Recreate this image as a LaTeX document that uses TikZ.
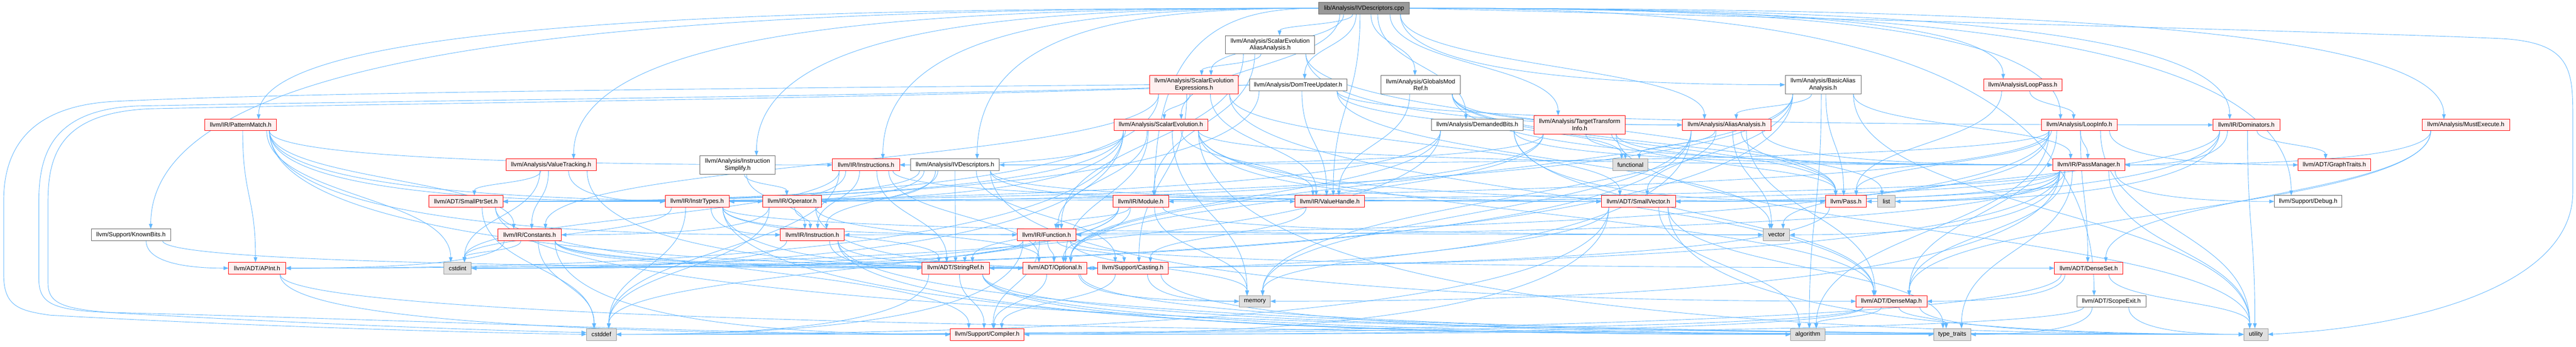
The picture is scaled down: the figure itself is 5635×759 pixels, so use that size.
\documentclass[tikz,border=0pt]{standalone}
\usepackage{fontspec}
\setmainfont{Liberation Sans}
\usetikzlibrary{arrows.meta}
\definecolor{edgec}{HTML}{63B8FF}
\definecolor{rdfill}{HTML}{FFF0F0}
\definecolor{sysfill}{HTML}{E0E0E0}
\definecolor{grA}{HTML}{666666}
\definecolor{grB}{HTML}{999999}
\pgfdeclarelayer{bg}
\pgfsetlayers{bg,main}
\makeatletter
\newcommand\NN[7]{%
  \expandafter\xdef\csname X@#1\endcsname{\fpeval{(#2+#4)/2}}%
  \expandafter\xdef\csname Y@#1\endcsname{\fpeval{(#3+#5)/2}}%
  \expandafter\xdef\csname W@#1\endcsname{\fpeval{(#4-#2)/2}}%
  \expandafter\xdef\csname H@#1\endcsname{\fpeval{(#5-#3)/2}}%
  \edef\NNw{\fpeval{#4-#2}pt}\edef\NNh{\fpeval{#5-#3}pt}%
  \edef\NNx{\csname X@#1\endcsname}\edef\NNy{\csname Y@#1\endcsname}%
  \node[#6, minimum width=\NNw, minimum height=\NNh] (#1) at (\NNx,\NNy) {#7};%
}
\def\cS{s}\def\cA{a}
\newcommand\Eg[3][aa]{\Eg@parse#1\@nil{#2}{#3}}
\def\Eg@parse#1#2\@nil#3#4{%
  \def\SMode{#1}\def\EMode{#2}%
  \edef\Xa{\csname X@#3\endcsname}\edef\Ya{\csname Y@#3\endcsname}%
  \edef\Wa{\csname W@#3\endcsname}\edef\Ha{\csname H@#3\endcsname}%
  \edef\Xb{\csname X@#4\endcsname}\edef\Yb{\csname Y@#4\endcsname}%
  \edef\Wb{\csname W@#4\endcsname}\edef\Hb{\csname H@#4\endcsname}%
  \edef\Dx{\fpeval{\Xb-(\Xa)}}%
  \edef\Sg{\fpeval{(\Dx<0) ? -1 : 1}}%
  \edef\Gap{\fpeval{(\Yb-\Hb)-(\Ya+\Ha)}}%
  \ifx\EMode\cA
    \ifnum\fpeval{(abs(\Dx) > 5*\Gap) ? 1 : 0}=1 \def\EMode{s}\else\def\EMode{t}\fi
  \fi
  \ifx\SMode\cA\def\SMode{b}\fi
  \ifx\SMode\cS
    \edef\Px{\fpeval{\Xa+\Sg*\Wa}}\edef\Py{\Ya}%
    \ifnum\Sg>0 \def\Pspec{(#3.east)}\else\def\Pspec{(#3.west)}\fi
  \else
    \edef\Ox{\fpeval{round(max(-0.8*\Wa, min(0.8*\Wa, 0.12*\Dx)),2)}}%
    \edef\Px{\fpeval{\Xa+\Ox}}\edef\Py{\fpeval{\Ya+\Ha}}%
    \edef\Pspec{([xshift=\Ox pt]#3.south)}%
  \fi
  \ifx\EMode\cS
    \edef\Qx{\fpeval{\Xb-\Sg*\Wb}}\edef\Qy{\Yb}%
    \ifnum\Sg>0 \def\Qspec{(#4.west)}\else\def\Qspec{(#4.east)}\fi
  \else
    \edef\Ex{\fpeval{round(max(-0.5*\Wb, min(0.5*\Wb, -0.1*\Dx)),2)}}%
    \edef\Qx{\fpeval{\Xb+\Ex}}\edef\Qy{\fpeval{\Yb-\Hb}}%
    \edef\Qspec{([xshift=\Ex pt]#4.north)}%
  \fi
  \edef\DX{\fpeval{abs(\Qx-\Px)}}\edef\DY{\fpeval{\Qy-\Py}}%
  \ifx\SMode\cS
    \edef\Ca{+(\fpeval{round(\Sg*0.5*\DX,2)},0)}%
  \else
    \ifx\EMode\cS \edef\Ca{+(0,\fpeval{round(0.8*\DY,2)})}%
    \else \edef\Ca{+(0,\fpeval{round(0.5*\DY,2)})}\fi
  \fi
  \ifx\EMode\cS
    \edef\Cb{+(\fpeval{round(-\Sg*0.5*\DX,2)},0)}%
  \else
    \ifx\SMode\cS \edef\Cb{+(0,\fpeval{round(-0.9*\DY,2)})}%
    \else \edef\Cb{+(0,\fpeval{round(-0.5*\DY,2)})}\fi
  \fi
  \edef\doit{\noexpand\draw[conn] \Pspec\space .. controls \Ca\space and \Cb\space .. \Qspec;}%
  \doit
}
\newcommand\Es[2]{\foreach \tg in {#2}{\Eg{#1}{\tg}}}
\makeatother
\tikzset{
  nd/.style={draw, line width=1pt, inner sep=0pt, outer sep=0pt, align=center,
    font=\fontsize{13.3}{15}\selectfont, text=black},
  rd/.style={nd, draw=red, fill=rdfill},
  wh/.style={nd, draw=grA, fill=white},
  sys/.style={nd, draw=grB, fill=sysfill},
  rootst/.style={nd, draw=grA, fill=grB},
  conn/.style={draw=edgec, line width=1pt, -{Triangle[length=11pt,width=8pt]}},
}
\begin{document}
\begin{tikzpicture}[x=1pt,y=-1pt]
\useasboundingbox (0,0) rectangle (5635,759);
% nodes
\NN{root}{2885}{5}{3083}{31}{rootst}{lib/Analysis/IVDescriptors.cpp}
\NN{seaa}{2681}{78}{2876}{118}{wh}{llvm/Analysis/ScalarEvolution\\AliasAnalysis.h}
\NN{see}{2515}{165}{2709}{206}{rd}{llvm/Analysis/ScalarEvolution\\Expressions.h}
\NN{dtu}{2733}{173}{2946}{199}{wh}{llvm/Analysis/DomTreeUpdater.h}
\NN{gmr}{3021}{165}{3194}{206}{wh}{llvm/Analysis/GlobalsMod\\Ref.h}
\NN{baa}{3905}{165}{4071}{206}{wh}{llvm/Analysis/BasicAlias\\Analysis.h}
\NN{lpass}{4339}{173}{4511}{199}{rd}{llvm/Analysis/LoopPass.h}
\NN{pm}{448}{261}{605}{286}{rd}{llvm/IR/PatternMatch.h}
\NN{se}{2437}{261}{2642}{286}{rd}{llvm/Analysis/ScalarEvolution.h}
\NN{db}{3131}{261}{3332}{286}{wh}{llvm/Analysis/DemandedBits.h}
\NN{tti}{3356}{253}{3555}{293}{rd}{llvm/Analysis/TargetTransform\\Info.h}
\NN{aa}{3680}{261}{3874}{286}{rd}{llvm/Analysis/AliasAnalysis.h}
\NN{li}{4466}{261}{4631}{286}{rd}{llvm/Analysis/LoopInfo.h}
\NN{dom}{4841}{261}{4987}{286}{rd}{llvm/IR/Dominators.h}
\NN{me}{5298}{261}{5490}{286}{rd}{llvm/Analysis/MustExecute.h}
\NN{vt}{1107}{348}{1304}{374}{rd}{llvm/Analysis/ValueTracking.h}
\NN{is}{1531}{341}{1696}{381}{wh}{llvm/Analysis/Instruction\\Simplify.h}
\NN{insts}{1821}{348}{1968}{374}{rd}{llvm/IR/Instructions.h}
\NN{ivd}{1992}{348}{2186}{374}{wh}{llvm/Analysis/IVDescriptors.h}
\NN{func}{3528}{348}{3605}{374}{sys}{functional}
\NN{pmgr}{4490}{348}{4648}{374}{rd}{llvm/IR/PassManager.h}
\NN{gt}{5027}{348}{5186}{374}{rd}{llvm/ADT/GraphTraits.h}
\NN{spset}{938}{428}{1100}{454}{rd}{llvm/ADT/SmallPtrSet.h}
\NN{itypes}{1455}{428}{1595}{454}{rd}{llvm/IR/InstrTypes.h}
\NN{oper}{1669}{428}{1797}{454}{rd}{llvm/IR/Operator.h}
\NN{mod}{2435}{428}{2556}{454}{rd}{llvm/IR/Module.h}
\NN{vh}{2833}{428}{2985}{454}{rd}{llvm/IR/ValueHandle.h}
\NN{svec}{3503}{428}{3665}{454}{rd}{llvm/ADT/SmallVector.h}
\NN{pass}{3993}{428}{4083}{454}{rd}{llvm/Pass.h}
\NN{list}{4107}{428}{4146}{454}{sys}{list}
\NN{dbg}{4975}{428}{5123}{454}{wh}{llvm/Support/Debug.h}
\NN{kb}{200}{501}{373}{527}{wh}{llvm/Support/KnownBits.h}
\NN{const}{1089}{501}{1228}{527}{rd}{llvm/IR/Constants.h}
\NN{inst}{1707}{501}{1847}{527}{rd}{llvm/IR/Instruction.h}
\NN{fn}{2225}{501}{2354}{527}{rd}{llvm/IR/Function.h}
\NN{vec}{3857}{501}{3915}{527}{sys}{vector}
\NN{apint}{500}{574}{625}{600}{rd}{llvm/ADT/APInt.h}
\NN{cstdint}{971}{574}{1031}{600}{sys}{cstdint}
\NN{sref}{2017}{574}{2164}{600}{rd}{llvm/ADT/StringRef.h}
\NN{opt}{2238}{574}{2377}{600}{rd}{llvm/ADT/Optional.h}
\NN{cast}{2401}{574}{2555}{600}{rd}{llvm/Support/Casting.h}
\NN{dset}{4494}{574}{4644}{600}{rd}{llvm/ADT/DenseSet.h}
\NN{mem}{2711}{647}{2779}{672}{sys}{memory}
\NN{dmap}{4060}{647}{4215}{672}{rd}{llvm/ADT/DenseMap.h}
\NN{scope}{4543}{647}{4694}{672}{wh}{llvm/ADT/ScopeExit.h}
\NN{cstddef}{1283}{719}{1348}{745}{sys}{cstddef}
\NN{comp}{2079}{719}{2240}{745}{rd}{llvm/Support/Compiler.h}
\NN{algo}{3917}{719}{3992}{745}{sys}{algorithm}
\NN{tt}{4230}{719}{4311}{745}{sys}{type\_traits}
\NN{util}{4908}{719}{4961}{745}{sys}{utility}
% edges
\begin{pgfonlayer}{bg}
\fill[white] (0,0) rectangle (5635,759);
\Eg[bt]{root}{seaa}
\Eg[bt]{root}{see}
\Eg[bt]{root}{dtu}
\Eg[bt]{root}{gmr}
\Eg[bt]{root}{se}
\Eg[bt]{root}{db}
\Eg[bt]{root}{tti}
\Eg[bt]{root}{vh}
\Eg{root}{baa}
\Eg{root}{aa}
\Eg[st]{root}{pm}
\Eg[st]{root}{kb}
\Eg[st]{root}{vt}
\Eg[st]{root}{is}
\Eg[st]{root}{insts}
\Eg[st]{root}{ivd}
\Eg[st]{root}{mod}
\Eg[st]{root}{lpass}
\Eg[st]{root}{li}
\Eg[st]{root}{dom}
\Eg[st]{root}{me}
\Eg[st]{root}{dbg}
\Eg[st]{root}{scope}
\draw[conn] (root.east) .. controls (4000,40) and (5300,75) .. (5480,85)
  .. controls (5620,95) and (5628,150) .. (5628,250) -- (5628,420)
  .. controls (5628,620) and (5300,715) .. (util.east);
\Es{seaa}{aa,see,fn,mod,pass}
\Es{see}{se,spset,svec,dmap,const,vh,cast}
\draw[conn] (see.west) .. controls (1800,192) and (700,200) .. (250,222)
  .. controls (60,232) and (8,330) .. (8,440) -- (8,600)
  .. controls (8,670) and (40,680) .. (110,690)
  .. controls (500,712) and (1000,728) .. (cstddef.west);
\Es{dtu}{dom,spset,vh,func,vec}
\draw[conn] (dtu.west) .. controls (2000,210) and (900,220) .. (300,232)
  .. controls (120,240) and (85,330) .. (85,440) -- (85,610)
  .. controls (85,660) and (110,675) .. (200,682)
  .. controls (600,705) and (1000,722) .. ([yshift=4pt]cstddef.west);
\draw[conn] (dtu.west) .. controls (2000,215) and (900,226) .. (330,238)
  .. controls (140,246) and (105,330) .. (105,440) -- (105,620)
  .. controls (105,665) and (140,676) .. (240,684)
  .. controls (900,700) and (1700,735) .. (comp.west);
\Es{gmr}{aa,pmgr,vh,pass,list}
\Es{baa}{aa,spset,pmgr,pass,opt,algo,cstdint,mem,util}
\Es{lpass}{li,pass}
\Es{pm}{apint,const,itypes,inst,insts,oper,cast,cstdint}
\Es{se}{apint,dmap,opt,spset,svec,fn,itypes,insts,pmgr,vh,pass,cstdint,mem,util}
\Es{db}{apint,dmap,opt,spset,pmgr,pass}
\Es{tti}{ivd,itypes,pmgr,pass,func,util,opt}
\Es{aa}{dmap,opt,svec,pmgr,pass,cstdint,func,mem,vec}
\Es{li}{dmap,dset,gt,spset,svec,inst,insts,pmgr,pass,algo,util}
\Es{dom}{gt,pmgr,pass,svec,util,vec}
\Es{me}{pmgr,dset,dmap}
\Es{vt}{const,itypes,opt,cstdint,spset}
\Es{is}{inst,oper}
\Es{insts}{itypes,inst,sref,opt,svec,cstddef,cstdint}
\Es{ivd}{dmap,spset,svec,sref,itypes,inst,oper,vh,cast}
\Es{pmgr}{dmap,spset,svec,sref,fn,mod,pass,dbg,list,mem,tt,util,vec}
\Es{spset}{comp,cstddef,util}
\Es{itypes}{opt,fn,inst,algo,cstddef,cstdint,vec,sref}
\Es{oper}{opt,const,inst,cast,cstddef}
\Es{mod}{opt,sref,fn,cstddef,cstdint,mem,vec}
\Es{vh}{cast}
\Es{svec}{comp,algo,cstddef,mem,tt,util}
\Es{pass}{sref}
\Es{kb}{apint,opt}
\Es{const}{apint,opt,sref,cast,comp,cstddef,cstdint}
\Es{inst}{sref,cast,algo,cstdint,util}
\Es{fn}{dset,sref,cast,comp,cstddef,cstdint,mem,opt}
\Es{apint}{comp,util}
\Es{sref}{comp,algo,cstddef,tt,util}
\Es{opt}{comp,mem,util}
\Es{cast}{comp,mem,tt}
\Es{dset}{dmap,cstddef,util}
\Es{dmap}{comp,algo,cstddef,tt,util}
\Es{scope}{comp,tt,util}
\end{pgfonlayer}
\end{tikzpicture}
\end{document}
